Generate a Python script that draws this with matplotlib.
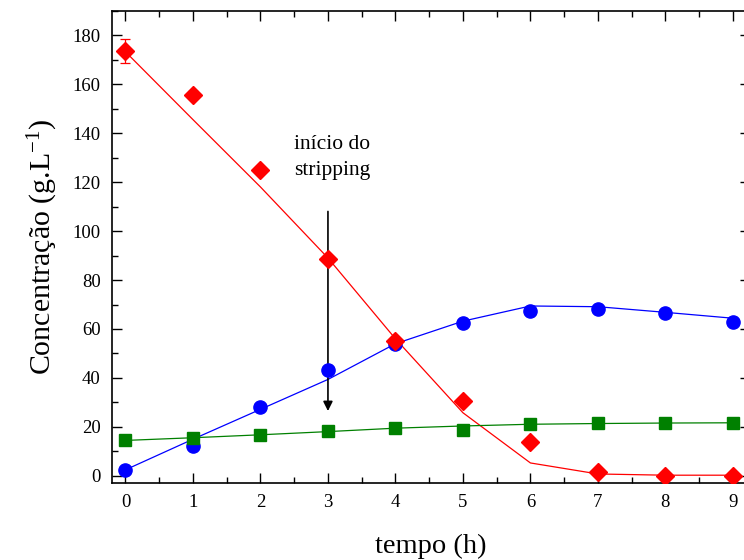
import numpy as np
import matplotlib
matplotlib.use("Agg")
import matplotlib.pyplot as plt
from matplotlib.ticker import MultipleLocator

plt.rcParams['font.family'] = ['Liberation Serif', 'DejaVu Serif']
plt.rcParams['mathtext.default'] = 'regular'

tempo = np.arange(0, 10)

# substrato: pontos experimentais e modelo
subst_exp = [173.5, 155.7, 125.0, 88.5, 55.0, 30.4, 13.8, 1.8, 0.0, 0.0]
subst_err = [5.0, 1.5, 0, 0, 0, 0, 0, 0, 0, 0]
subst_mod = [173.2, 145.5, 118.0, 89.0, 56.0, 25.8, 5.3, 0.8, 0.3, 0.3]

# produto
prod_exp = [2.5, 12.2, 28.0, 43.3, 54.0, 62.6, 67.3, 68.2, 66.7, 62.8]
prod_mod = [2.5, 15.0, 27.2, 39.4, 54.0, 63.2, 69.4, 69.1, 66.8, 64.4]

# células
cel_exp = [14.5, 15.4, 16.8, 18.4, 19.6, 18.7, 21.2, 21.5, 21.6, 21.6]
cel_mod = [14.5, 15.6, 16.8, 18.1, 19.5, 20.4, 21.1, 21.4, 21.6, 21.7]

fig = plt.figure(figsize=(7.44, 5.6), dpi=100)
ax = fig.add_axes([0.1505, 0.137, 0.858, 0.844])

ax.plot(tempo, subst_mod, color='red', lw=0.9)
ax.plot(tempo, prod_mod, color='blue', lw=0.9)
ax.plot(tempo, cel_mod, color='green', lw=0.9)

ax.errorbar(tempo, subst_exp, yerr=subst_err, fmt='D', color='red', ms=9,
            capsize=3.5, elinewidth=0.9, capthick=0.9, zorder=4)
ax.plot(tempo, prod_exp, 'o', color='blue', ms=9.5, zorder=4)
ax.plot(tempo, cel_exp, 's', color='green', ms=8, zorder=4)

# seta do início do stripping
ax.annotate('', xy=(3, 26.5), xytext=(3, 108),
            arrowprops=dict(arrowstyle='-|>', color='black', lw=1.2,
                            mutation_scale=14, shrinkA=0, shrinkB=0))
ax.text(2.5, 130, 'início do\nstripping', fontsize=15.5, ha='left', va='center',
        linespacing=1.45)

ax.set_xlim(-0.2, 9.258)
ax.set_ylim(-3, 190)
ax.xaxis.set_major_locator(MultipleLocator(1))
ax.xaxis.set_minor_locator(MultipleLocator(0.5))
ax.yaxis.set_major_locator(MultipleLocator(20))
ax.yaxis.set_minor_locator(MultipleLocator(10))
ax.tick_params(which='both', direction='in', top=True, right=True,
               labelsize=13.5, pad=8)
ax.tick_params(which='major', length=7, width=1)
ax.tick_params(which='minor', length=4, width=1)
for sp in ax.spines.values():
    sp.set_linewidth(1.2)

ax.set_xlabel('tempo (h)', fontsize=20.5, labelpad=16)
ax.set_ylabel('Concentração (g.L$^{-1}$)', fontsize=21.5, labelpad=9)

fig.savefig('out.png', dpi=100)
